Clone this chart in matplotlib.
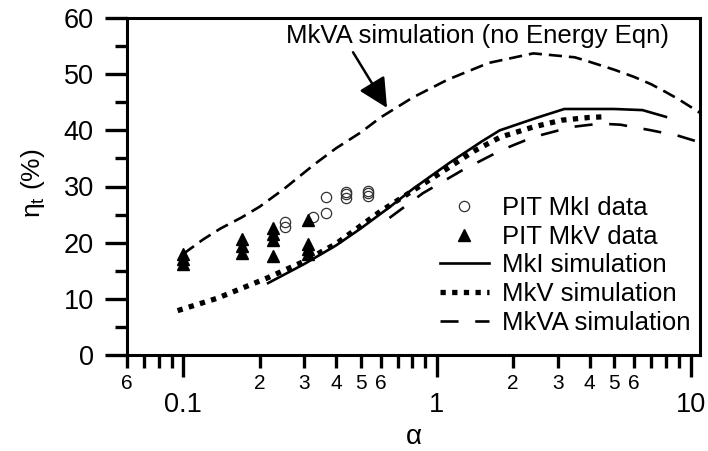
import matplotlib
matplotlib.use("Agg")
import matplotlib.pyplot as plt
from matplotlib.ticker import FuncFormatter, FixedLocator, MultipleLocator
import numpy as np

plt.rcParams['font.family'] = ['Liberation Sans', 'DejaVu Sans']
plt.rcParams['mathtext.fontset'] = 'custom'
plt.rcParams['mathtext.rm'] = 'Liberation Sans'
plt.rcParams['mathtext.it'] = 'Liberation Sans:italic'
plt.rcParams['lines.scale_dashes'] = False

# ---- data ----
alpha_mkva_noE = [0.1, 0.12, 0.14, 0.17, 0.2, 0.25, 0.33, 0.4, 0.5, 0.6, 0.8, 1.1, 1.6, 2.4, 3.5, 4.0, 5.0, 6.0, 7.0, 8.0, 9.0, 11.0]
eta_mkva_noE = [18.0, 20.6, 22.5, 24.5, 26.4, 29.6, 34.0, 36.8, 39.6, 42.3, 45.8, 49.0, 52.0, 53.7, 53.0, 52.2, 50.8, 49.5, 48.2, 46.8, 45.5, 43.0]

alpha_mki_sim = [0.216, 0.3, 0.4, 0.5, 0.65, 0.8, 1.12, 1.5, 1.77, 2.5, 3.18, 5.0, 6.47, 8.0]
eta_mki_sim = [12.8, 16.2, 19.5, 22.5, 26.3, 29.5, 34.2, 38.0, 40.0, 42.3, 43.8, 43.8, 43.6, 42.4]

alpha_mkv_sim = [0.095, 0.136, 0.214, 0.297, 0.4, 0.6, 1.0, 1.4, 1.78, 2.4, 3.1, 4.0, 4.5]
eta_mkv_sim = [7.9, 10.1, 13.7, 16.6, 19.8, 25.6, 32.0, 36.3, 38.8, 40.6, 41.8, 42.3, 42.4]

alpha_mkva_sim = [0.65, 0.88, 1.26, 1.8, 2.4, 3.4, 4.4, 5.3, 7.0, 9.0, 11.0]
eta_mkva_sim = [24.4, 28.8, 32.9, 36.5, 38.8, 40.6, 41.2, 41.0, 40.0, 39.0, 37.8]

alpha_mki_data = [0.252, 0.252, 0.325, 0.366, 0.366, 0.438, 0.438, 0.438, 0.535, 0.535, 0.535]
eta_mki_data = [22.8, 23.7, 24.6, 25.3, 28.1, 28.0, 28.6, 29.0, 28.3, 28.8, 29.2]

alpha_mkv_data = [0.1, 0.1, 0.1, 0.171, 0.171, 0.171, 0.226, 0.226, 0.226, 0.226, 0.31, 0.31, 0.31, 0.31]
eta_mkv_data = [16.2, 17.1, 18.0, 18.2, 19.4, 20.6, 17.6, 20.5, 21.6, 22.6, 18.0, 18.8, 19.8, 24.0]

legend_labels = ["PIT MkI data", "PIT MkV data", "MkI simulation", "MkV simulation", "MkVA simulation"]
annot_text = "MkVA simulation (no Energy Eqn)"

# ---- figure ----
fig = plt.figure(figsize=(7.08, 4.51), dpi=100)
ax = fig.add_axes([127/708, 1-355/451, (700-127)/708, (355-18)/451])

ax.plot(alpha_mkva_noE, eta_mkva_noE, color='black', lw=1.9, dashes=(9.5, 5), dash_capstyle='butt')
ax.plot(alpha_mki_data, eta_mki_data, linestyle='none', marker='o', ms=7.4, mfc='none', mec='#333333', mew=0.9, label=legend_labels[0])
ax.plot(alpha_mkv_data, eta_mkv_data, linestyle='none', marker='^', ms=9, color='black', label=legend_labels[1])
ax.plot(alpha_mki_sim, eta_mki_sim, color='black', lw=1.9, label=legend_labels[2])
ax.plot(alpha_mkv_sim, eta_mkv_sim, color='black', lw=3.8, dashes=(3.8, 4.6), dash_capstyle='butt', label=legend_labels[3])
ax.plot(alpha_mkva_sim, eta_mkva_sim, color='black', lw=1.9, dashes=(13, 12), dash_capstyle='butt', label=legend_labels[4])

ax.set_xscale('log')
ax.set_xlim(0.06, 10.9)
ax.set_ylim(0, 60)

# x ticks
ax.xaxis.set_major_locator(FixedLocator([0.1, 1, 10]))
ax.xaxis.set_major_formatter(FuncFormatter(lambda v, p: {0.1: '0.1', 1: '1', 10: '10'}.get(round(v, 3), '')))
minor_vals = [m * 10.0**e for e in (-2, -1, 0) for m in range(2, 10)]
ax.xaxis.set_minor_locator(FixedLocator(minor_vals))

def minor_fmt(v, p):
    m = v / 10**np.floor(np.log10(v) + 1e-9)
    mi = int(round(m))
    return str(mi) if mi in (2, 3, 4, 5, 6) else ''
ax.xaxis.set_minor_formatter(FuncFormatter(minor_fmt))

ax.yaxis.set_major_locator(MultipleLocator(10))
ax.yaxis.set_minor_locator(MultipleLocator(5))

for s in ax.spines.values():
    s.set_linewidth(2.2)

ax.tick_params(axis='x', which='major', direction='out', length=16, width=2.4, labelsize=19.5, pad=11)
ax.tick_params(axis='x', which='minor', direction='out', length=9, width=2.4, labelsize=15, pad=4.5)
ax.tick_params(axis='y', which='major', direction='out', length=16, width=2.4, labelsize=19.5, pad=8)
ax.tick_params(axis='y', which='minor', direction='out', length=8.5, width=2.4)

ax.set_xlabel('α', fontsize=20)
ax.xaxis.set_label_coords(0.5, (355-437)/337)
ax.xaxis.label.set_verticalalignment('center')
ax.set_ylabel(r'η$_{\rm t}$ (%)', fontsize=19)
ax.yaxis.set_label_coords((33-127)/573, (355-183)/337)
ax.yaxis.label.set_verticalalignment('center')

# annotation
ax.text(1.45, 56.8, annot_text, fontsize=18.5, ha='center', va='center')
ax.annotate('', xy=(0.636, 44.0), xytext=(0.467, 53.9),
            arrowprops=dict(arrowstyle='-|>,head_length=0.9,head_width=0.45', lw=1.8, color='black', mutation_scale=20, shrinkA=0, shrinkB=0))

leg = ax.legend(loc='upper left', bbox_to_anchor=(440/708, 1-196/451), bbox_transform=fig.transFigure,
                frameon=False, fontsize=18.5, handlelength=1.9, handletextpad=0.5, labelspacing=0.18,
                borderpad=0, borderaxespad=0)

fig.savefig('out.png', dpi=100)
